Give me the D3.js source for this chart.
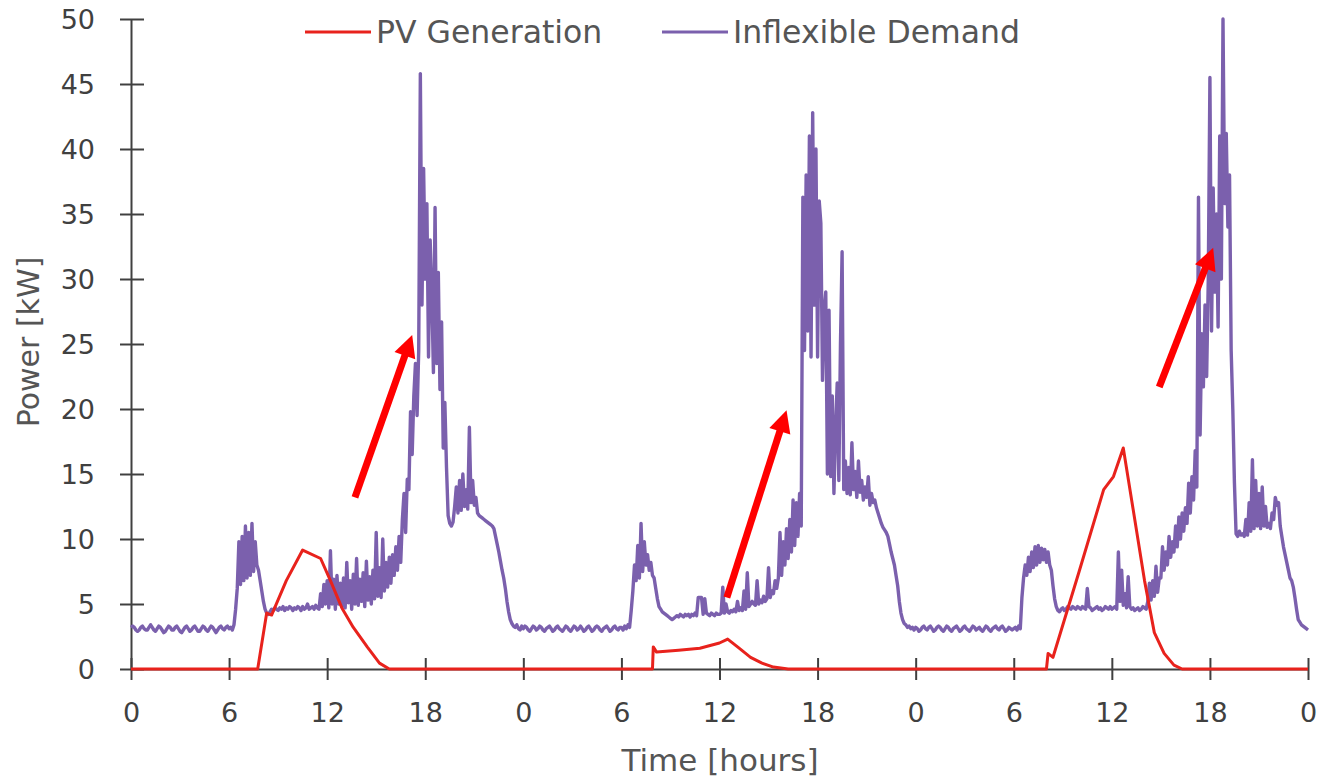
<!DOCTYPE html>
<html><head><meta charset="utf-8">
<script src="https://cdn.jsdelivr.net/npm/d3@7"></script>
<style>html,body{margin:0;padding:0;background:#fff;}svg{display:block;}</style>
</head><body>
<svg id="chart" width="1322" height="778"></svg>
<script>
// ---- Data ----
const xTickHours = [0,6,12,18,24,30,36,42,48,54,60,66,72];
const yTicks = [0,5,10,15,20,25,30,35,40,45,50];
const stepHours = 0.1;
// Inflexible demand, kW, every 0.1 h (10 values per hour)
const demandDay1 = [
 3.2,3.3,3.2,3.0,2.9,3.0,3.2,3.3,3.1,3.0,
 3.0,3.2,3.4,3.2,3.0,2.9,3.1,3.3,3.2,3.0,
 2.8,2.9,3.1,3.3,3.2,3.0,3.0,3.2,3.3,3.1,
 2.9,2.8,3.0,3.2,3.3,3.1,2.9,3.0,3.2,3.3,
 3.1,2.9,2.9,3.1,3.3,3.2,3.0,2.9,3.1,3.3,
 3.2,3.0,2.8,3.0,3.2,3.3,3.1,3.0,3.2,3.3,
 3.1,3.2,3.0,3.4,4.6,6.2,9.8,6.5,10.2,6.8,
 11.0,7.0,10.5,7.2,11.2,7.5,9.8,8.0,7.6,6.8,
 6.0,5.2,4.6,4.3,4.2,4.4,4.6,4.5,4.7,4.6,
 4.5,4.7,4.6,4.8,4.5,4.7,4.6,4.8,4.7,4.5,
 4.7,4.6,4.8,4.7,4.5,4.8,4.6,4.7,5.0,4.6,
 4.7,4.8,4.6,4.9,4.7,4.6,5.8,4.8,6.5,5.0,
 6.8,4.7,9.1,5.0,6.9,4.6,7.2,5.0,6.6,4.8,
 7.0,4.7,8.2,5.1,6.8,4.6,7.3,5.0,8.5,4.9,
 6.9,5.2,7.4,4.8,8.3,5.3,7.1,5.0,7.6,5.4,
 10.5,5.6,7.8,5.5,10.0,6.0,8.2,6.3,8.6,6.6,
 8.8,7.2,9.4,7.6,10.2,8.2,11.5,13.5,10.5,14.6,
 13.8,19.8,16.5,21.0,23.5,19.5,24.5,45.8,28.0,38.5,
 30.0,35.8,24.0,33.0,29.0,22.8,35.5,23.5,30.5,21.5,
 26.7,17.0,20.5,15.5,11.8,11.2,11.0,11.3,12.5,14.0,
 12.0,14.5,12.2,15.0,12.5,13.8,12.3,18.6,12.8,14.5,
 12.6,13.2,12.0,11.8,11.7,11.6,11.5,11.4,11.3,11.2,
 11.1,11.0,10.8,10.2,9.6,9.0,8.3,7.6,7.0,6.2,
 5.2,4.4,3.8,3.5,3.3,3.2,3.4,3.1,3.0,3.3
];
const demandDay2 = [
 3.1,3.3,3.2,3.0,2.9,3.1,3.3,3.2,3.0,3.1,
 3.3,3.2,3.0,2.9,3.1,3.2,3.3,3.1,2.9,3.0,
 3.2,3.3,3.1,3.0,2.9,3.1,3.3,3.2,3.0,2.9,
 3.1,3.3,3.2,3.0,3.1,3.3,3.1,2.9,3.0,3.2,
 3.3,3.1,2.9,3.0,3.2,3.3,3.2,3.0,2.9,3.1,
 3.2,3.3,3.1,2.9,3.0,3.2,3.3,3.1,3.0,3.2,
 3.2,3.0,3.3,3.1,3.4,3.2,4.5,6.0,8.0,6.8,
 9.5,7.0,11.2,7.5,9.8,8.0,8.8,7.6,8.2,7.2,
 7.0,6.2,5.4,4.8,4.6,4.4,4.3,4.2,4.1,4.0,
 3.9,3.8,3.9,4.0,4.1,4.0,4.2,4.1,4.0,4.2,
 4.1,4.2,4.0,4.2,4.1,4.3,4.1,5.5,5.5,5.5,
 4.2,5.4,4.3,4.2,4.1,4.3,4.2,4.1,4.3,4.2,
 4.2,4.3,6.3,4.3,5.0,4.4,4.3,4.5,4.4,4.6,
 4.4,5.2,4.5,4.7,4.5,6.0,4.6,7.4,4.8,5.0,
 5.2,5.0,4.9,6.8,5.0,5.3,5.1,5.6,5.2,5.4,
 7.8,5.5,6.0,5.8,6.8,6.2,7.0,10.5,7.2,9.8,
 8.0,10.8,8.5,11.5,9.0,13.0,9.5,12.8,10.2,13.5,
 11.0,36.3,24.5,38.0,26.0,41.0,24.0,42.8,28.0,40.0,
 24.0,36.0,34.3,22.2,27.5,29.0,15.0,27.6,14.8,21.0,
 13.5,18.5,22.0,14.5,25.0,32.1,13.8,16.0,13.5,15.5,
 13.4,17.4,13.8,15.2,13.2,16.0,13.6,14.5,13.0,14.0,
 13.2,14.8,12.6,13.5,12.8,13.0,12.4,12.0,11.6,11.2,
 10.9,10.7,10.5,10.2,9.6,9.0,8.5,8.0,7.2,6.4,
 5.2,4.3,3.8,3.5,3.4,3.2,3.3,3.1,3.2,3.0
];
const demandDay3 = [
 3.2,3.1,2.9,3.0,3.2,3.3,3.1,3.0,3.2,3.3,
 3.1,2.9,3.0,3.2,3.3,3.2,3.0,2.9,3.1,3.3,
 3.2,3.0,2.9,3.1,3.2,3.3,3.1,2.9,3.0,3.2,
 3.3,3.1,3.0,2.9,3.1,3.3,3.2,3.0,3.1,3.2,
 3.0,2.9,3.1,3.3,3.2,3.0,2.9,3.1,3.2,3.3,
 3.1,3.0,3.2,3.3,3.1,2.9,3.0,3.2,3.1,3.0,
 3.1,3.2,3.0,3.3,3.1,5.5,7.0,8.0,7.2,8.6,
 7.5,9.0,7.8,9.4,8.0,9.5,8.2,9.3,8.4,9.2,
 8.2,9.0,8.0,7.6,6.4,5.4,4.8,4.5,4.4,4.6,
 4.7,4.5,4.6,4.8,4.7,4.6,4.8,4.7,4.6,4.8,
 4.7,4.6,4.8,4.7,4.6,6.2,4.8,4.7,4.5,4.6,
 4.7,4.8,4.6,4.7,4.5,4.6,4.8,4.7,4.6,4.8,
 4.6,4.7,4.8,4.6,9.0,5.2,7.6,4.9,5.8,4.7,
 7.1,4.8,4.6,4.7,4.5,4.6,4.7,4.5,4.6,4.8,
 4.7,4.6,5.2,6.6,5.3,6.8,5.6,7.9,5.9,7.0,
 7.0,9.4,7.6,9.0,8.0,10.2,8.6,9.8,9.0,11.0,
 9.4,11.7,10.0,12.0,10.6,12.4,11.2,14.3,12.0,14.8,
 13.0,16.8,14.0,36.3,18.0,25.8,21.7,28.0,22.5,30.0,
 45.5,26.0,37.0,29.0,35.0,26.3,41.0,30.0,50.0,35.8,
 41.2,34.0,38.0,24.5,20.0,14.3,10.4,10.2,10.6,10.3,
 10.4,10.2,11.5,10.3,12.8,10.6,16.1,10.8,14.5,11.0,
 13.5,10.8,14.0,11.0,12.5,10.9,11.2,10.8,12.0,11.5,
 13.2,12.6,12.8,11.0,10.2,9.4,8.8,8.2,7.6,7.0,
 6.8,6.3,5.5,4.6,3.8,3.6,3.4,3.3,3.2,3.1
];
const demandFinal = 3.0; // at hour 72

// PV generation, kW
const pvHours = [0,7.75,8.3,8.6,9.5,10.5,11.6,12.2,12.9,13.6,14.45,15.2,15.8,
  31.9,31.95,32.15,33.5,34.8,36.0,36.5,37.2,37.9,38.6,39.3,40.2,
  56.0,56.1,56.4,58.0,59.5,60.1,60.7,61.3,62.0,62.6,63.2,63.8,64.3,72];
const pvKW = [0,0,4.3,4.15,6.8,9.15,8.5,6.8,4.7,3.2,1.7,0.45,0,
  0,1.7,1.3,1.45,1.6,2.0,2.3,1.6,0.9,0.45,0.15,0,
  0,1.2,0.9,7.5,13.8,14.8,17.0,12.3,6.8,2.8,1.2,0.3,0,0];

// Annotation arrows [fromHour, fromKW, toHour, toKW]
const arrows = [[13.7,13.2,17.2,25.7],[36.45,5.5,40.1,19.9],[62.9,21.7,66.2,32.4]];

const seriesNames = ["PV Generation","Inflexible Demand"];

// ---- Drawing ----
const svg = d3.select("#chart");
const x = d3.scaleLinear().domain([0,72]).range([131,1308]);
const y = d3.scaleLinear().domain([0,50]).range([669,19]);
const purple = "#7b60ad", red = "#e8221c", axisCol = "#404040", textCol = "#555555";
const font = "DejaVu Sans, Verdana, sans-serif";

const demand = [];
[demandDay1, demandDay2, demandDay3].forEach((arr, d) => {
  arr.forEach((v, i) => demand.push([24*d + i*stepHours, v]));
});
demand.push([72, demandFinal]);
const pv = pvHours.map((h, i) => [h, pvKW[i]]);

// axes
const yAxis = svg.append("g").attr("transform", `translate(${x(0)},0)`)
  .call(d3.axisLeft(y).tickValues(yTicks).tickSizeOuter(0).tickSizeInner(11).tickPadding(25));
const xAxis = svg.append("g").attr("transform", `translate(0,${y(0)})`)
  .call(d3.axisBottom(x).tickValues(xTickHours).tickFormat(h => h % 24).tickSizeOuter(0).tickSizeInner(11));
[yAxis, xAxis].forEach(g => {
  g.select(".domain").attr("stroke", axisCol).attr("stroke-width", 2);
  g.selectAll(".tick line").attr("stroke", axisCol).attr("stroke-width", 2);
  g.selectAll(".tick text").attr("fill", axisCol).style("font-family", font).style("font-size", "27px");
});
yAxis.selectAll(".tick line").attr("x1", 13);
xAxis.selectAll(".tick line").attr("y1", -11);
xAxis.selectAll(".tick text").attr("dy", null).attr("y", 53);
yAxis.selectAll(".tick text").attr("dy", "0.36em");

// lines
svg.append("path").datum(demand)
  .attr("fill","none").attr("stroke",purple).attr("stroke-width",3.4).attr("stroke-linejoin","round")
  .attr("d", d3.line().x(d => x(d[0])).y(d => y(d[1])));
svg.append("path").datum(pv)
  .attr("fill","none").attr("stroke",red).attr("stroke-width",3).attr("stroke-linejoin","round")
  .attr("d", d3.line().x(d => x(d[0])).y(d => y(d[1])));

// arrows
arrows.forEach(a => {
  const x1 = x(a[0]), y1 = y(a[1]), x2 = x(a[2]), y2 = y(a[3]);
  const dx = x2 - x1, dy = y2 - y1, L = Math.hypot(dx, dy), ux = dx / L, uy = dy / L;
  const hl = 22, hw = 11;
  const bx = x2 - ux * hl, by = y2 - uy * hl;
  svg.append("line").attr("x1", x1).attr("y1", y1).attr("x2", bx + ux*2).attr("y2", by + uy*2)
    .attr("stroke", "#ff0000").attr("stroke-width", 7);
  svg.append("polygon")
    .attr("points", [[x2, y2], [bx - uy*hw, by + ux*hw], [bx + uy*hw, by - ux*hw]].map(p => p.join(",")).join(" "))
    .attr("fill", "#ff0000");
});

// legend
const legend = [[305, red, seriesNames[0]], [662, purple, seriesNames[1]]];
legend.forEach(([lx, c, name]) => {
  svg.append("line").attr("x1", lx).attr("x2", lx + 66).attr("y1", 32).attr("y2", 32)
    .attr("stroke", c).attr("stroke-width", 3);
  svg.append("text").attr("x", lx + 71).attr("y", 43).text(name)
    .attr("fill", textCol).style("font-family", font).style("font-size", "31.5px");
});

// axis titles
svg.append("text").attr("x", 720).attr("y", 771).attr("text-anchor","middle").text("Time [hours]")
  .attr("fill", textCol).style("font-family", font).style("font-size", "31px");
svg.append("text").attr("transform", "translate(39,342) rotate(-90)").attr("text-anchor","middle").text("Power [kW]")
  .attr("fill", textCol).style("font-family", font).style("font-size", "30px");
</script>
</body></html>
